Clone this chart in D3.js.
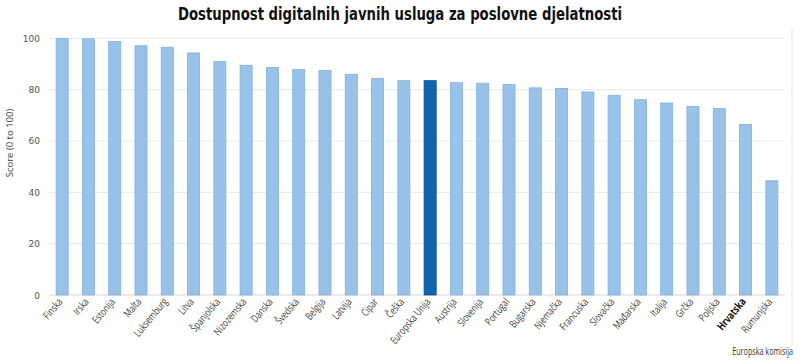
<!DOCTYPE html>
<html><head><meta charset="utf-8">
<script src="https://cdn.jsdelivr.net/npm/d3@7"></script>
<style>body{margin:0;background:#fff}svg{display:block}</style>
</head><body><svg id="c" width="800" height="363"></svg>
<script>
const categories = ["Finska","Irska","Estonija","Malta","Luksemburg","Litva","Španjolska","Nizozemska","Danska","Švedska","Belgija","Latvija","Cipar","Češka","Europska Unija","Austrija","Slovenija","Portugal","Bugarska","Njemačka","Francuska","Slovačka","Mađarska","Italija","Grčka","Poljska","Hrvatska","Rumunjska"];
const values = [99.9,99.8,98.7,97.1,96.5,94.3,90.9,89.5,88.6,87.8,87.5,86.0,84.4,83.5,83.5,82.7,82.5,82.0,80.7,80.5,79.1,77.8,76.1,74.8,73.5,72.6,66.5,44.5];
const yTicks = [0,20,40,60,80,100];
const title = "Dostupnost digitalnih javnih usluga za poslovne djelatnosti";
const yTitle = "Score (0 to 100)";
const source = "Europska komisija";
const highlight = "Europska Unija";
const boldLabel = "Hrvatska";

(function(){
const svg = d3.select("#c");
const L = 49, R = 785, T = 38.3, B = 295;
const x = d3.scaleBand().domain(categories).range([L, R]).paddingInner(0.54).paddingOuter(0.27);
const y = d3.scaleLinear().domain([0,100]).range([B, T]);

svg.append("g").selectAll("line").data(yTicks).join("line")
  .attr("x1", L).attr("x2", R)
  .attr("y1", d=>y(d)).attr("y2", d=>y(d))
  .attr("stroke", d=> d===0 ? "#d6d6d6" : "#ececec").attr("stroke-width", 1.2);

svg.append("g").selectAll("text").data(yTicks).join("text")
  .attr("x", 40).attr("y", d=>y(d)+3.5).attr("text-anchor","end")
  .attr("font-family","DejaVu Sans, sans-serif").attr("font-size",9).attr("fill","#555")
  .text(d=>d);

svg.append("text").attr("transform","translate(13,143) rotate(-90)")
  .attr("text-anchor","middle").attr("font-family","Open Sans, sans-serif")
  .attr("font-size",9.5).attr("fill","#444").text(yTitle);

svg.append("g").selectAll("rect").data(categories).join("rect")
  .attr("x", d=>x(d)).attr("width", x.bandwidth())
  .attr("y", (d,i)=>y(values[i])).attr("height",(d,i)=>y(0)-y(values[i]))
  .attr("fill", d=> d===highlight ? "#0f64b0" : "#99c2e8")
  .attr("stroke", d=> d===highlight ? "#0b4f8e" : "#84b1dc").attr("stroke-width",0.8);

svg.append("g").selectAll("text").data(categories).join("text")
  .attr("transform", d=>`translate(${x(d)+x.bandwidth()/2+1},${302}) rotate(-50) scale(0.76,1)`)
  .attr("text-anchor","end")
  .attr("font-family","Open Sans, sans-serif")
  .attr("font-size", d=> d===boldLabel ? 11 : 10.5)
  .attr("font-weight", d=> d===boldLabel ? "bold" : "normal")
  .attr("fill", d=> d===boldLabel ? "#111" : "#444")
  .text(d=>d);

svg.append("text").attr("x",400).attr("y",20).attr("text-anchor","middle")
  .attr("font-family","DejaVu Sans Condensed, Liberation Sans Narrow, sans-serif")
  .attr("font-weight","bold").attr("font-size",18).attr("fill","#111")
  .attr("textLength",444).attr("lengthAdjust","spacingAndGlyphs").text(title);

svg.append("line").attr("x1",792).attr("x2",792).attr("y1",28).attr("y2",346)
  .attr("stroke","#e6e6e6");

svg.append("text").attr("transform","translate(793,355) scale(0.72,1)").attr("text-anchor","end")
  .attr("font-family","Open Sans, sans-serif")
  .attr("font-size",10).attr("fill","#333").text(source);
})();
</script></body></html>
